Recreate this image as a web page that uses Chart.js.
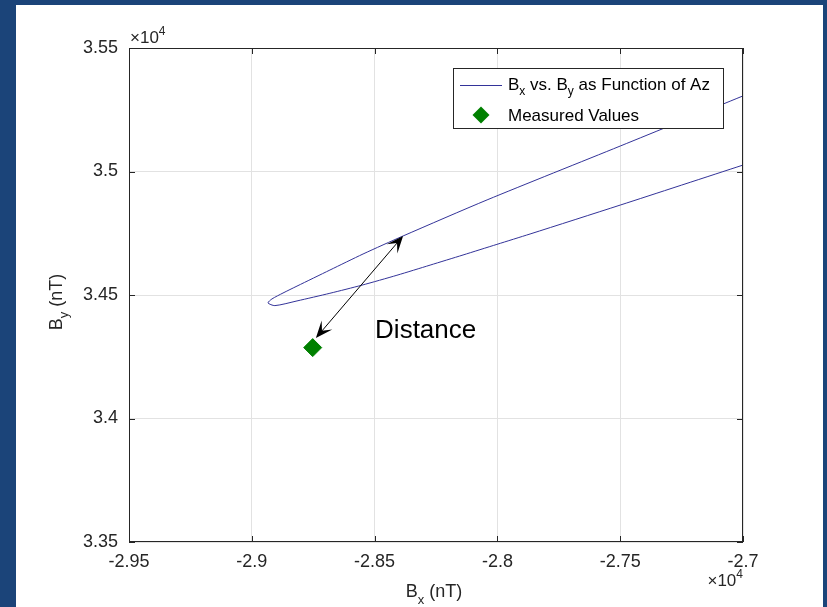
<!DOCTYPE html>
<html>
<head>
<meta charset="utf-8">
<script src="https://cdn.jsdelivr.net/npm/chart.js@4.4.1/dist/chart.umd.min.js"></script>
<style>
  html, body { margin: 0; padding: 0; background: #1b4479; }
  #wrap { width: 827px; height: 607px; }
</style>
</head>
<body>
<div id="wrap"><canvas id="chart" width="827" height="607"></canvas></div>
<script>
// Bx / By trace as the azimuth goes round (nT).
// upper branch from the right edge to the tip, then the lower branch back out
const curveBx = [-27000, -27500, -28042, -28384, -28547, -28682, -28816, -28873, -28918, -28934,
                 -28906, -28816, -28682, -28551, -28409, -28274, -28140, -28002, -27867, -27500, -27000];
const curveBy = [35306, 35103, 34885, 34739, 34666, 34601, 34536, 34508, 34484, 34468,
                 34457, 34476, 34507, 34540, 34580, 34621, 34662, 34705, 34747, 34864, 35026];

const measuredBx = [-28752];
const measuredBy = [34287];

// "Distance" arrow, from the measured point up to the trace
const arrowFrom = [-28739, 34326];
const arrowTo = [-28384, 34739];
const distanceLabelAt = [-28498, 34326];

const xMin = -29500, xMax = -27000, xStep = 500;
const yMin = 33500, yMax = 35500, yStep = 500;

const FONT = '"Liberation Sans", Arial, Helvetica, sans-serif';
const INK = '#262626';

function font(size) { return size + 'px ' + FONT; }

function richWidth(ctx, parts) {
    let w = 0;
    for (const p of parts) {
        ctx.font = font(p.size);
        w += ctx.measureText(p.t).width;
    }
    return w;
}

function drawRich(ctx, parts, x, y) {
    for (const p of parts) {
        ctx.font = font(p.size);
        ctx.fillText(p.t, x, y + (p.dy || 0));
        x += ctx.measureText(p.t).width;
    }
}

function arrowHead(ctx, tx, ty, ux, uy, len, half) {
    const bx = tx - ux * len, by = ty - uy * len;
    const nx = -uy, ny = ux;
    ctx.beginPath();
    ctx.moveTo(tx, ty);
    ctx.lineTo(bx + nx * half, by + ny * half);
    ctx.lineTo(tx - ux * len * 0.55, ty - uy * len * 0.55);
    ctx.lineTo(bx - nx * half, by - ny * half);
    ctx.closePath();
    ctx.fill();
}

function diamond(ctx, cx, cy, r) {
    ctx.beginPath();
    ctx.moveTo(cx, cy - r);
    ctx.lineTo(cx + r, cy);
    ctx.lineTo(cx, cy + r);
    ctx.lineTo(cx - r, cy);
    ctx.closePath();
    ctx.fill();
}

const figurePlugin = {
    id: 'figure',
    beforeDraw(chart) {
        const ctx = chart.ctx;
        ctx.save();
        ctx.fillStyle = '#ffffff';
        ctx.fillRect(16, 5, 807, 602);
        ctx.restore();
    },
    afterDraw(chart) {
        const ctx = chart.ctx;
        const a = chart.chartArea;
        const xs = chart.scales.x, ys = chart.scales.y;
        ctx.save();

        // box + inward ticks on all four sides
        ctx.strokeStyle = INK;
        ctx.lineWidth = 1;
        ctx.strokeRect(a.left + 0.5, a.top + 0.5, a.right - a.left - 1, a.bottom - a.top - 1);
        ctx.beginPath();
        xs.ticks.forEach(t => {
            const px = Math.round(xs.getPixelForValue(t.value)) + 0.5;
            ctx.moveTo(px, a.bottom); ctx.lineTo(px, a.bottom - 6);
            ctx.moveTo(px, a.top); ctx.lineTo(px, a.top + 6);
        });
        ys.ticks.forEach(t => {
            const py = Math.round(ys.getPixelForValue(t.value)) + 0.5;
            ctx.moveTo(a.left, py); ctx.lineTo(a.left + 6, py);
            ctx.moveTo(a.right, py); ctx.lineTo(a.right - 6, py);
        });
        ctx.stroke();

        // exponent labels
        ctx.fillStyle = INK;
        ctx.textBaseline = 'alphabetic';
        const expo = [{t: '\u00d710', size: 17}, {t: '4', size: 12, dy: -8}];
        drawRich(ctx, expo, a.left + 1, a.top - 5);
        drawRich(ctx, expo, a.right - richWidth(ctx, expo), 586);

        // axis titles
        const xTitle = [{t: 'B', size: 18}, {t: 'x', size: 13, dy: 7}, {t: ' (nT)', size: 18}];
        drawRich(ctx, xTitle, (a.left + a.right) / 2 - richWidth(ctx, xTitle) / 2 - 2, 597);
        const yTitle = [{t: 'B', size: 18}, {t: 'y', size: 13, dy: 6}, {t: ' (nT)', size: 18}];
        ctx.save();
        ctx.translate(62, 302);
        ctx.rotate(-Math.PI / 2);
        drawRich(ctx, yTitle, -richWidth(ctx, yTitle) / 2, 0);
        ctx.restore();

        // distance arrow
        const x1 = xs.getPixelForValue(arrowFrom[0]), y1 = ys.getPixelForValue(arrowFrom[1]);
        const x2 = xs.getPixelForValue(arrowTo[0]), y2 = ys.getPixelForValue(arrowTo[1]);
        const len = Math.hypot(x2 - x1, y2 - y1);
        const ux = (x2 - x1) / len, uy = (y2 - y1) / len;
        ctx.strokeStyle = '#000000';
        ctx.fillStyle = '#000000';
        ctx.lineWidth = 1;
        ctx.beginPath();
        ctx.moveTo(x1 + ux * 8, y1 + uy * 8);
        ctx.lineTo(x2 - ux * 8, y2 - uy * 8);
        ctx.stroke();
        arrowHead(ctx, x2, y2, ux, uy, 17, 7);
        arrowHead(ctx, x1, y1, -ux, -uy, 17, 7);

        ctx.font = font(26);
        ctx.fillText('Distance', xs.getPixelForValue(distanceLabelAt[0]), ys.getPixelForValue(distanceLabelAt[1]));

        // legend
        ctx.fillStyle = '#ffffff';
        ctx.fillRect(453, 68, 270, 60);
        ctx.strokeStyle = INK;
        ctx.strokeRect(453.5, 68.5, 270, 60);
        ctx.strokeStyle = '#333399';
        ctx.beginPath();
        ctx.moveTo(460, 85.5); ctx.lineTo(502, 85.5);
        ctx.stroke();
        ctx.fillStyle = '#008000';
        diamond(ctx, 481, 115, 8.5);
        ctx.fillStyle = '#000000';
        drawRich(ctx, [
            {t: 'B', size: 17}, {t: 'x', size: 12, dy: 5}, {t: ' vs. B', size: 17},
            {t: 'y', size: 12, dy: 5}, {t: ' as Function of Az', size: 17}
        ], 508, 90);
        drawRich(ctx, [{t: 'Measured Values', size: 17}], 508, 121);

        ctx.restore();
    }
};

const tickLabel = v => String(Math.round(v) / 1e4);

new Chart(document.getElementById('chart'), {
    type: 'scatter',
    data: {
        datasets: [{
            label: 'Bx vs. By as Function of Az',
            data: curveBx.map((x, i) => ({x: x, y: curveBy[i]})),
            showLine: true,
            borderColor: '#333399',
            borderWidth: 1,
            pointRadius: 0,
            tension: 0.25
        }, {
            label: 'Measured Values',
            data: measuredBx.map((x, i) => ({x: x, y: measuredBy[i]})),
            pointStyle: 'rectRot',
            pointRadius: 9,
            backgroundColor: '#008000',
            borderColor: '#008000'
        }]
    },
    options: {
        responsive: false,
        animation: false,
        layout: { padding: { left: 0, top: 48, right: 84, bottom: 0 } },
        plugins: { legend: { display: false }, tooltip: { enabled: false } },
        scales: {
            x: {
                type: 'linear', min: xMin, max: xMax,
                afterFit: s => { s.height = 65; },
                grid: { color: '#e2e2e2', drawTicks: false },
                border: { display: false },
                ticks: {
                    stepSize: xStep, autoSkip: false, maxRotation: 0,
                    padding: 9, color: INK,
                    font: { family: FONT, size: 18 },
                    callback: tickLabel
                }
            },
            y: {
                type: 'linear', min: yMin, max: yMax,
                afterFit: s => { s.width = 129; },
                grid: { color: '#e2e2e2', drawTicks: false },
                border: { display: false },
                ticks: {
                    stepSize: yStep, autoSkip: false,
                    padding: 11, color: INK,
                    font: { family: FONT, size: 18 },
                    callback: tickLabel
                }
            }
        }
    },
    plugins: [figurePlugin]
});
</script>
</body>
</html>
